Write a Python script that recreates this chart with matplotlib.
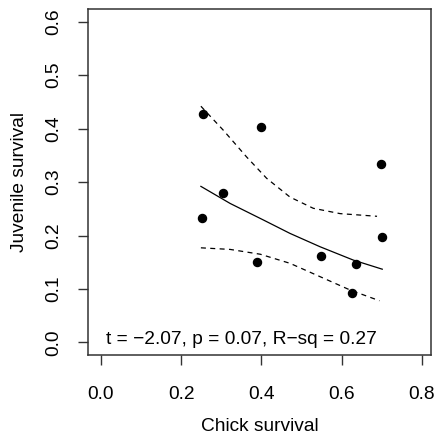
import matplotlib.pyplot as plt

plt.rcParams['font.family'] = ['Liberation Sans', 'DejaVu Sans']

# observed points
chick = [0.254, 0.399, 0.698, 0.305, 0.251, 0.700, 0.388, 0.549, 0.635, 0.626]
juv = [0.428, 0.404, 0.334, 0.280, 0.233, 0.197, 0.151, 0.161, 0.147, 0.093]

# fitted line and confidence band
fit_x = [0.249, 0.322, 0.405, 0.471, 0.546, 0.629, 0.701]
fit_y = [0.292, 0.260, 0.229, 0.204, 0.179, 0.154, 0.137]
up_x = [0.249, 0.305, 0.363, 0.413, 0.471, 0.529, 0.596, 0.688]
up_y = [0.442, 0.397, 0.347, 0.307, 0.272, 0.251, 0.241, 0.236]
lo_x = [0.249, 0.322, 0.397, 0.471, 0.546, 0.621, 0.694]
lo_y = [0.177, 0.174, 0.165, 0.148, 0.123, 0.098, 0.078]

xticks = [0.0, 0.2, 0.4, 0.6, 0.8]
yticks = [0.0, 0.1, 0.2, 0.3, 0.4, 0.5, 0.6]
stats = "t = \u22122.07, p = 0.07, R\u2212sq = 0.27"

fs = 13.8

fig = plt.figure(figsize=(4.35, 4.38), dpi=100)
ax = fig.add_axes([0.203, 0.189, 0.787, 0.7905])

ax.plot(chick, juv, 'o', color='black', markersize=5.8)
ax.plot(fit_x, fit_y, '-', color='black', lw=0.9)
ax.plot(up_x, up_y, color='black', lw=0.9, dashes=(4, 3.5))
ax.plot(lo_x, lo_y, color='black', lw=0.9, dashes=(4, 3.5))

ax.text(0.35, 0.006, stats, ha='center', va='center', fontsize=fs)

ax.set_xlim(-0.0316, 0.8216)
ax.set_ylim(-0.024, 0.624)
ax.set_xticks(xticks)
ax.set_yticks(yticks)
ax.set_xticklabels([f"{v:.1f}" for v in xticks])
ax.set_yticklabels([f"{v:.1f}" for v in yticks], rotation=90, va='center')
ax.tick_params(direction='out', length=7, width=1, color='#333333',
               labelsize=fs)
ax.tick_params(axis='x', pad=15)
ax.tick_params(axis='y', pad=12)
for s in ax.spines.values():
    s.set_color('#333333')
    s.set_linewidth(1.1)

ax.set_xlabel("Chick survival", fontsize=fs, labelpad=11)
ax.set_ylabel("Juvenile survival", fontsize=fs, labelpad=12)

fig.savefig("out.png", dpi=100)
